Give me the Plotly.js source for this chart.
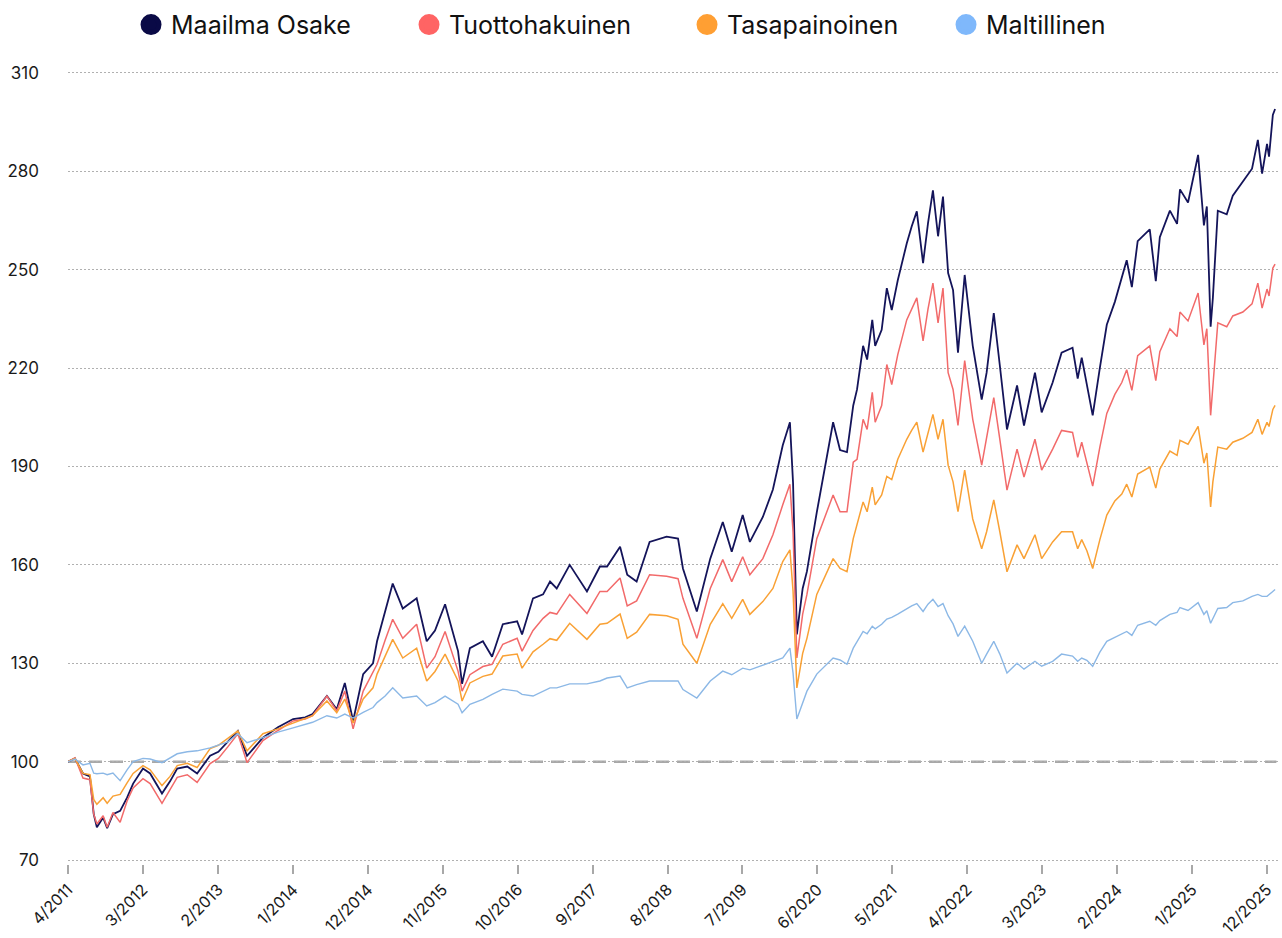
<!DOCTYPE html>
<html>
<head>
<meta charset="utf-8">
<script src="https://cdn.plot.ly/plotly-3.0.1.min.js"></script>
<style>html,body{margin:0;padding:0;background:#fff;}#chart{width:1282px;height:938px;}</style>
</head>
<body>
<div id="chart"></div>
<script>
// Values (index, start = 100)
const dates = [
"2011-04-01","2011-05-02","2011-06-07","2011-07-08","2011-07-25","2011-08-08","2011-09-05","2011-09-23","2011-10-19","2011-11-20",
"2011-12-21","2012-01-17","2012-03-01","2012-04-02","2012-05-25","2012-06-30","2012-08-01","2012-09-15","2012-10-29","2012-12-26",
"2013-02-01","2013-03-15","2013-04-29","2013-06-09","2013-08-19","2013-10-25","2014-01-01","2014-02-24","2014-03-29","2014-06-01",
"2014-07-15","2014-08-20","2014-09-26","2014-11-10","2014-12-24","2015-01-11","2015-02-16","2015-03-22","2015-05-06","2015-07-07",
"2015-08-21","2015-09-27","2015-11-11","2016-01-08","2016-01-26","2016-03-01","2016-04-28","2016-06-08","2016-07-26","2016-09-28",
"2016-10-20","2016-12-08","2017-01-22","2017-02-22","2017-03-24","2017-05-21","2017-08-06","2017-10-03","2017-11-04","2018-01-01",
"2018-02-02","2018-03-16","2018-05-13","2018-07-28","2018-09-17","2018-10-09","2018-12-10","2019-02-08","2019-04-05","2019-05-15",
"2019-07-03","2019-08-04","2019-10-01","2019-11-15","2019-12-29","2020-01-30","2020-02-13","2020-03-01","2020-03-27","2020-04-15",
"2020-05-29","2020-08-10","2020-09-10","2020-10-11","2020-11-08","2020-11-25","2020-12-22","2021-01-09","2021-02-01","2021-02-14",
"2021-03-15","2021-04-07","2021-04-29","2021-05-26","2021-07-05","2021-07-27","2021-08-19","2021-09-16","2021-10-08","2021-10-30",
"2021-11-22","2021-12-14","2022-01-06","2022-01-28","2022-02-19","2022-03-21","2022-04-26","2022-06-05","2022-06-27","2022-07-29",
"2022-08-25","2022-09-26","2022-11-10","2022-12-11","2023-01-29","2023-02-28","2023-04-18","2023-05-28","2023-07-16","2023-08-08",
"2023-08-26","2023-09-18","2023-10-14","2023-11-15","2023-12-16","2024-01-21","2024-02-21","2024-03-14","2024-04-06","2024-05-02",
"2024-06-25","2024-07-22","2024-08-09","2024-09-23","2024-10-25","2024-11-07","2024-12-13","2025-01-27","2025-02-22","2025-03-07",
"2025-03-24","2025-04-03","2025-04-25","2025-06-04","2025-07-01","2025-08-15","2025-09-25","2025-10-21","2025-11-09","2025-12-01",
"2025-12-10","2025-12-27","2026-01-06"
];

const maailmaOsake = [
100,101,96.4,95.5,84,80,83,79.7,84,85,
89,93.3,97.9,96.4,90.3,94,97.9,98.5,96.4,101.8,
103,106,109.4,101.8,107.3,110.5,113,113.5,114.5,120,
116,124,112.4,126.7,130,136.7,146,154.3,146.7,149.8,
136.7,140,148,133.7,123.7,134.6,136.7,132,141.9,142.8,
138.8,149.8,151,154.9,152.8,160,151.9,159.5,159.5,165.5,
157,154.9,167,168.6,168,158.9,145.8,161.9,173.1,164,
175.2,167,174.6,183,196.5,203.5,185,138.8,152.8,158,
176,203.5,195,194.4,208.6,213.5,226.8,222.6,234.7,226.8,
231.7,244.4,237.7,246.8,258,263.2,267.8,252,264.1,274.2,
260.2,272.3,249,243.8,224.7,248.4,226.8,210.4,218.6,236.8,
220.8,201.3,214.7,202.5,218.6,206.5,215.6,224.7,226.2,216.8,
223.2,214.4,205.6,220.1,233.2,240.2,247.8,252.9,244.7,258.7,
262.3,246.5,259.9,268,264,274.5,270.5,285,263.5,269.3,
232.6,241.4,268,266.9,272.6,276.9,280.8,289.6,279.3,288.4,
284.5,297.2,299
];

const tuottohakuinen = [
100,101.2,95,94.5,84,81,83.5,80,84.5,81.5,
88,92,94.8,93.3,87.3,91.5,95.2,96,93.7,99.4,
101,104.5,108.5,99.7,106.4,109.5,112.4,113,114,120,
115.5,121.5,110,121.5,127.6,129.7,137,143.4,137.6,141.9,
128.5,132,139.7,127.6,121.5,126.5,129,129.7,135.8,137.6,
133.7,140,143.7,145.5,145,151,145.2,151.9,151.9,156,
147.5,149,157,156.5,155.8,149.8,137.6,152.8,161.6,154.9,
162.5,157,161.9,169.2,178.3,184.6,170,131.6,145,151,
168,181.3,176.2,176.2,191.3,192.2,204.4,201.3,212.6,203.5,
208.6,221.1,215,224.1,234.7,238,241.4,228.3,238,245.9,
233.8,244.4,218.6,213.5,202.5,222.3,204.4,190.4,198.3,211,
198.3,182.8,195.3,186.8,198.3,188.9,195.3,201,200.4,192.8,
197.4,191,184,195.9,206.2,212,215.6,219.5,213.2,223.8,
226.8,216.2,225,232,229.6,237.1,234.4,242.9,227.1,232,
205.6,214.4,233.8,232.6,235.9,237.1,239.6,245.9,238.3,244.1,
242,250.5,251.7
];

const tasapainoinen = [
100,101,96.4,96,88.5,87,89,87.3,89.5,90,
93.5,96.4,98.8,97.5,92.7,95.5,98.8,99.5,98.2,104,
105,107,109.4,103.3,108.5,110,111.8,113,114,118.5,
114.9,119.1,111.8,119.1,122.5,126.7,132,137.3,131.6,134.6,
124.6,127.5,132.8,124.6,118.5,124,126,126.7,132.2,132.8,
128.5,133.5,135.8,137.5,137,142.2,137.3,141.9,142.2,145,
137.6,139.5,144.9,144.5,143.4,135.8,130,141.9,148.2,143.7,
149.5,144.9,148.8,152.8,161,164.6,152,122.5,133,137.6,
151,161.9,158.9,157.9,168,172.2,179.2,176.2,183.7,178.3,
181.3,187,186,192.2,198.3,201,203.5,194.4,200.5,205.9,
198.3,204.4,190.4,185.3,176.2,188.9,174,164.9,170.1,179.8,
170.1,157.9,166.1,161.9,169.2,161.9,167,170.1,170.1,164.9,
167.7,164.3,158.9,167.7,175.2,179.5,181.6,184.6,180.7,187.7,
189.8,183.4,189.2,194.7,193.4,198,196.8,202.2,191,194.1,
177.7,185.3,195.9,195.3,197.4,198.6,200.4,204.4,199.8,203.5,
202.2,207.4,208.6
];

const maltillinen = [
100,100.8,99,99.5,96.5,96.3,96.5,96,96.5,94.2,
97.5,100,101,100.8,99.7,101,102.4,103,103.3,104.2,
105,106,108.5,105.8,107.3,109,110.3,111.5,112,114,
113.3,114.5,113.3,115,116.5,118,120,122.5,119.4,120,
117,118,120,117.5,114.9,117.5,119,120.5,122.1,121.5,
120.5,120,121.5,122.5,122.5,123.7,123.7,124.6,125.5,126.1,
122.5,123.5,124.6,124.6,124.6,122,119.4,124.6,127.6,126.5,
128.5,128,129.5,130.5,131.6,134.6,127,113,118,121.5,
126.7,131.6,131,129.7,134.6,136.7,139.7,139,141.3,140.5,
141.9,143.5,144,145,146.7,147.5,148.2,145.8,148,149.5,
147.3,148.2,144.5,142,138.2,141.3,136.7,130,132.8,136.7,
132.8,127,130,128.2,130.6,129.1,130.6,132.8,132.2,130.6,
131.6,130.9,129.1,133.4,136.7,138,139,139.7,138.5,141.6,
142.8,141.6,143,144.9,145.5,147,146.1,148.5,144.9,146,
142.2,143.5,146.7,147,148.5,149,150.4,151,150.4,150.4,
151,152,152.5
];

const seriesNames = ["Maailma Osake","Tuottohakuinen","Tasapainoinen","Maltillinen"];
const lineColors = ["#14145a","#f26a6a","#f9a135","#8cb8e6"];
const legendColors = ["#0a0a46","#ff6464","#ff9f33","#7fb8fb"];

const tickDates = ["2011-04-01","2012-03-01","2013-02-01","2014-01-01","2014-12-01","2015-11-01","2016-10-01","2017-09-01",
  "2018-08-01","2019-07-01","2020-06-01","2021-05-01","2022-04-01","2023-03-01","2024-02-01","2025-01-01","2025-12-01"];
const tickLabels = ["4/2011","3/2012","2/2013","1/2014","12/2014","11/2015","10/2016","9/2017",
  "8/2018","7/2019","6/2020","5/2021","4/2022","3/2023","2/2024","1/2025","12/2025"];
const yTicks = [70,100,130,160,190,220,250,280,310];
const baseline = 100;

const values = [maailmaOsake, tuottohakuinen, tasapainoinen, maltillinen];
const lineWidths = [1.8,1.5,1.5,1.4];
const legendWidths = [233,233,214,130];

const traces = [];
values.forEach((v,i)=>{
  traces.push({
    type:"scatter", mode:"lines", x:dates, y:v, name:seriesNames[i],
    line:{color:lineColors[i], width:lineWidths[i]}, showlegend:false, hoverinfo:"x+y+name"
  });
});
seriesNames.forEach((n,i)=>{
  traces.push({
    type:"scatter", mode:"markers", x:[null], y:[null], name:n,
    marker:{color:legendColors[i], size:16, line:{color:legendColors[i], width:5}},
    showlegend:true, legendwidth:legendWidths[i]
  });
});

const font = "Inter, 'Noto Sans', sans-serif";
const layout = {
  width:1282, height:938,
  margin:{l:68, r:2, t:60, b:74},
  paper_bgcolor:"#fff", plot_bgcolor:"#fff",
  font:{family:font, color:"#1a1a1a", size:16},
  showlegend:true,
  legend:{orientation:"h", x:0.052, xanchor:"left", y:1.049, yanchor:"middle",
    font:{family:font, size:25, color:"#111"}, bgcolor:"rgba(0,0,0,0)", traceorder:"normal"},
  xaxis:{type:"date", range:["2011-04-01","2026-01-28"], showgrid:false, zeroline:false, showline:false,
    tickmode:"array", tickvals:tickDates, ticktext:tickLabels, tickangle:-45,
    ticks:"outside", ticklen:9, tickwidth:2, tickcolor:"#a8a8a8",
    tickfont:{family:font, size:16, color:"#1a1a1a"}, fixedrange:true},
  yaxis:{range:[68.79,312.73], tickmode:"array", tickvals:yTicks, showgrid:true,
    gridcolor:"#b0b0b0", gridwidth:1, griddash:"2px,2px", zeroline:false, showline:false,
    ticks:"", ticklabelstandoff:28, tickfont:{family:font, size:17, color:"#1a1a1a"}, fixedrange:true},
  shapes:[{type:"line", xref:"paper", x0:0, x1:0.997, yref:"y", y0:baseline, y1:baseline,
    line:{color:"#a8a8a8", width:2.5, dash:"13px,8px"}, layer:"below"}]
};

Plotly.newPlot("chart", traces, layout, {displayModeBar:false, staticPlot:false});
</script>
</body>
</html>
